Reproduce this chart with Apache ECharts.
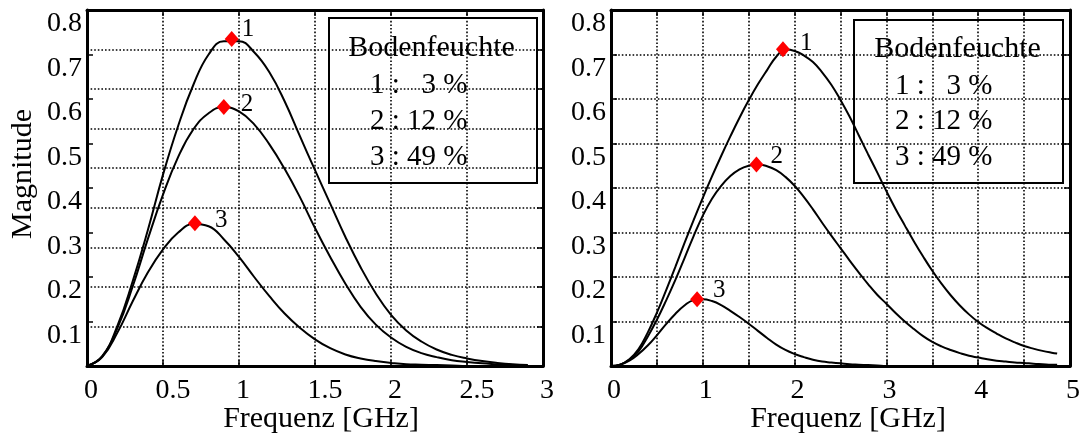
<!DOCTYPE html>
<html>
<head>
<meta charset="utf-8">
<script src="https://cdn.jsdelivr.net/npm/echarts@6.0.0/dist/echarts.min.js"></script>
<style>
  html, body { margin: 0; padding: 0; background: #fff; }
  #chart { width: 1086px; height: 434px; }
</style>
</head>
<body>
<div id="chart"></div>
<script>
// ---- Left panel: frequency axis (GHz) and magnitude spectra ----
const freqLeft = [0, 0.1, 0.2, 0.3, 0.4, 0.5, 0.6, 0.7, 0.8, 0.9,
                  1.0, 1.1, 1.2, 1.3, 1.4, 1.5, 1.6, 1.7, 1.8, 1.9,
                  2.0, 2.1, 2.2, 2.3, 2.4, 2.5, 2.6, 2.7, 2.8, 2.9];
const magLeft1 = [0, 0.022, 0.09, 0.19, 0.305, 0.43, 0.54, 0.632, 0.7, 0.73,
                  0.73, 0.705, 0.66, 0.595, 0.517, 0.44, 0.365, 0.29, 0.222, 0.163,
                  0.115, 0.08, 0.055, 0.037, 0.025, 0.017, 0.011, 0.007, 0.004, 0.002];
const magLeft2 = [0, 0.021, 0.085, 0.178, 0.285, 0.385, 0.47, 0.532, 0.568, 0.582,
                  0.572, 0.543, 0.498, 0.443, 0.38, 0.31, 0.245, 0.185, 0.133, 0.093,
                  0.064, 0.043, 0.029, 0.02, 0.013, 0.009, 0.006, 0.004, 0.002, 0.001];
const magLeft3 = [0, 0.02, 0.075, 0.145, 0.21, 0.262, 0.3, 0.319, 0.314, 0.285,
                  0.245, 0.2, 0.157, 0.118, 0.086, 0.06, 0.04, 0.026, 0.017, 0.011,
                  0.007, 0.004, 0.003, 0.002, 0.001, 0, 0, 0, 0, 0];
const peakFreqLeft = [0.952, 0.90, 0.71];
const peakMagLeft  = [0.735, 0.582, 0.321];

// ---- Right panel ----
const freqRight = [0, 0.1, 0.2, 0.3, 0.4, 0.5, 0.6, 0.7, 0.8, 0.9,
                   1.0, 1.1, 1.2, 1.3, 1.4, 1.5, 1.6, 1.7, 1.8, 1.9,
                   2.0, 2.1, 2.2, 2.3, 2.4, 2.5, 2.6, 2.7, 2.8, 2.9,
                   3.0, 3.1, 3.2, 3.3, 3.4, 3.5, 3.6, 3.7, 3.8, 3.9,
                   4.0, 4.1, 4.2, 4.3, 4.4, 4.5, 4.6, 4.7, 4.8, 4.86];
const magRight1 = [0, 0.003, 0.015, 0.038, 0.075, 0.12, 0.17, 0.222, 0.276, 0.328,
                   0.378, 0.426, 0.472, 0.516, 0.558, 0.597, 0.633, 0.665, 0.695, 0.711,
                   0.708, 0.698, 0.683, 0.66, 0.632, 0.598, 0.56, 0.518, 0.476, 0.435,
                   0.393, 0.353, 0.316, 0.28, 0.246, 0.214, 0.185, 0.159, 0.136, 0.116,
                   0.099, 0.085, 0.073, 0.062, 0.053, 0.045, 0.039, 0.034, 0.030, 0.028];
const magRight2 = [0, 0.003, 0.014, 0.033, 0.066, 0.104, 0.147, 0.193, 0.242, 0.292,
                   0.338, 0.376, 0.405, 0.427, 0.442, 0.45, 0.453, 0.449, 0.44, 0.425,
                   0.405, 0.38, 0.352, 0.322, 0.293, 0.265, 0.237, 0.21, 0.184, 0.16,
                   0.14, 0.119, 0.1, 0.083, 0.067, 0.054, 0.044, 0.036, 0.029, 0.023,
                   0.019, 0.015, 0.012, 0.01, 0.008, 0.007, 0.005, 0.004, 0.003, 0.003];
const magRight3 = [0, 0.003, 0.012, 0.027, 0.046, 0.069, 0.094, 0.117, 0.136, 0.148,
                   0.15, 0.146, 0.137, 0.124, 0.11, 0.095, 0.079, 0.063, 0.048, 0.036,
                   0.027, 0.02, 0.014, 0.01, 0.008, 0.006, 0.004, 0.003, 0.002, 0.001,
                   0, 0, 0, 0, 0, 0, 0, 0, 0, 0,
                   0, 0, 0, 0, 0, 0, 0, 0, 0, 0];
const peakFreqRight = [1.873, 1.584, 0.938];
const peakMagRight  = [0.712, 0.453, 0.15];

// ---- Labels ----
const curveNames = ['1', '2', '3'];
const legendTitle = 'Bodenfeuchte';
const legendLines = ['1 :   3 %', '2 : 12 %', '3 : 49 %'];
const xTitle = 'Frequenz [GHz]';
const yTitle = 'Magnitude';

// ---- Styling ----
const FONT = '"Liberation Serif", "Times New Roman", serif';
const dotted = { color: '#000', width: 1.6, type: [1.6, 2.0] };
const frameLine = { show: true, onZero: false, lineStyle: { color: '#000', width: 3 } };
const innerTick = { show: true, inside: true, length: 6, lineStyle: { color: '#000', width: 1.5 } };
const tickFont = { fontFamily: FONT, fontSize: 28, color: '#000' };
const peakLabelOffsetsLeft  = [[0, -9], [7, -3], [10, -3]];
const peakLabelOffsetsRight = [[7, -6], [4, -8], [6, -9]];

const pairs = (xs, ys) => xs.map((x, i) => [x, ys[i]]);

function curve(xs, ys, xi, yi) {
  return {
    type: 'line', xAxisIndex: xi, yAxisIndex: yi,
    data: pairs(xs, ys), showSymbol: false, smooth: 0.45,
    lineStyle: { color: '#000', width: 2, opacity: 1 }, z: 3, silent: true
  };
}

function peaks(xs, ys, offsets, xi, yi) {
  return {
    type: 'scatter', xAxisIndex: xi, yAxisIndex: yi,
    symbol: 'diamond', symbolSize: [14, 16],
    itemStyle: { color: '#ff0000', opacity: 1 }, z: 5, silent: true,
    data: xs.map((x, i) => ({
      value: [x, ys[i]], name: curveNames[i],
      label: { offset: offsets[i] }
    })),
    label: {
      show: true, position: 'right', distance: 3,
      formatter: p => p.name,
      fontFamily: FONT, fontSize: 25, color: '#000', opacity: 1,
      textBorderWidth: 0
    }
  };
}

function yLabelFmt(v) { return v === 0 ? '' : v.toFixed(1); }

function xLabelsLeft(v) {
  const s = String(+v.toFixed(1));
  return Number.isInteger(+s) ? '{i|' + s + '}' : '{f|' + s + '}';
}
function xLabelsRight(v) {
  const r = +v.toFixed(1);
  return Number.isInteger(r) ? '{i|' + r + '}' : '';
}

function bottomAxis(grid, max, fmt, intPad, fracPad) {
  return {
    gridIndex: grid, type: 'value', position: 'bottom', min: 0, max: max, interval: 0.5,
    axisLine: frameLine, axisTick: innerTick,
    axisLabel: {
      margin: 11, formatter: fmt, ...tickFont,
      rich: {
        i: { ...tickFont, padding: [0, 0, 0, intPad] },
        f: { ...tickFont, padding: [0, 0, 0, fracPad] }
      }
    },
    splitLine: { show: true, lineStyle: dotted }
  };
}
function topAxis(grid, max) {
  return {
    gridIndex: grid, type: 'value', position: 'top', min: 0, max: max, interval: 0.5,
    axisLine: frameLine, axisTick: innerTick, axisLabel: { show: false }, splitLine: { show: false }
  };
}
function leftAxis(grid, max, gridLines) {
  return {
    gridIndex: grid, type: 'value', position: 'left', min: 0, max: max, interval: 0.1,
    axisLine: frameLine, axisTick: innerTick,
    axisLabel: { margin: 5, verticalAlign: 'top', formatter: yLabelFmt, ...tickFont },
    splitLine: { show: gridLines, lineStyle: dotted }
  };
}
function rightAxis(grid, max, gridLines) {
  return {
    gridIndex: grid, type: 'value', position: 'right', min: 0, max: max, interval: 0.1,
    axisLine: frameLine, axisTick: innerTick, axisLabel: { show: false },
    splitLine: { show: gridLines, lineStyle: dotted }
  };
}

function legendBox(x, y, w, h, titleX, titleY, linesX, linesY) {
  const children = [
    { type: 'rect', shape: { x: x, y: y, width: w, height: h },
      style: { fill: '#fff', stroke: '#000', lineWidth: 2 } },
    { type: 'text', x: titleX, y: titleY,
      style: { text: legendTitle, font: '30px ' + FONT, fill: '#000', align: 'center', verticalAlign: 'middle' } }
  ];
  legendLines.forEach((t, i) => children.push({
    type: 'text', x: linesX, y: linesY[i],
    style: { text: t, font: '29px ' + FONT, fill: '#000', align: 'left', verticalAlign: 'middle' }
  }));
  return { type: 'group', z: 100, children: children };
}

function title(text, x, y, rot) {
  return {
    type: 'text', x: x, y: y, rotation: rot || 0, z: 100,
    style: { text: text, font: '30px ' + FONT, fill: '#000', align: 'center', verticalAlign: 'middle' }
  };
}

const chart = echarts.init(document.getElementById('chart'), null, { renderer: 'canvas' });
chart.setOption({
  backgroundColor: '#fff',
  animation: false,
  grid: [
    { left: 87, top: 10, width: 456, height: 356, outerBoundsMode: 'none', containLabel: false },
    { left: 611, top: 10, width: 459, height: 356, outerBoundsMode: 'none', containLabel: false }
  ],
  xAxis: [
    bottomAxis(0, 3, xLabelsLeft, 8, 20),
    topAxis(0, 3),
    bottomAxis(1, 5, xLabelsRight, 6, 0),
    topAxis(1, 5)
  ],
  yAxis: [
    leftAxis(0, 0.8, false),
    rightAxis(0, 0.9, true),
    leftAxis(1, 0.8, true),
    rightAxis(1, 0.8, false)
  ],
  series: [
    curve(freqLeft, magLeft1, 0, 0),
    curve(freqLeft, magLeft2, 0, 0),
    curve(freqLeft, magLeft3, 0, 0),
    peaks(peakFreqLeft, peakMagLeft, peakLabelOffsetsLeft, 0, 0),
    curve(freqRight, magRight1, 2, 2),
    curve(freqRight, magRight2, 2, 2),
    curve(freqRight, magRight3, 2, 2),
    peaks(peakFreqRight, peakMagRight, peakLabelOffsetsRight, 2, 2)
  ],
  graphic: [
    legendBox(329, 18, 208, 165, 431.5, 48.5, 370, [85.5, 121, 157]),
    legendBox(854, 20, 209, 163, 957.5, 49.5, 895, [86, 121.5, 157]),
    title(xTitle, 321, 419.5),
    title(xTitle, 848, 419.5),
    title(yTitle, 23, 174, Math.PI / 2)
  ]
});
</script>
</body>
</html>
